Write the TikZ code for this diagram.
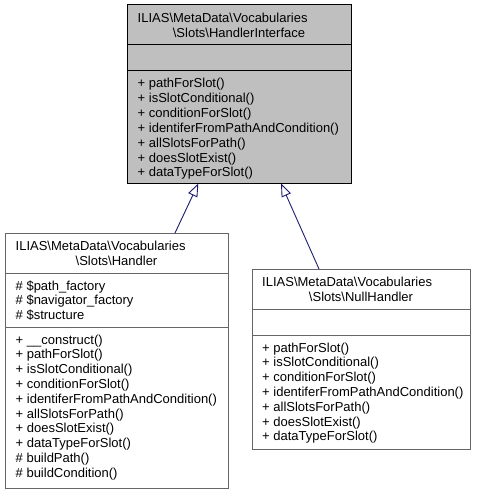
\documentclass[tikz,border=0pt]{standalone}
\usepackage{fontspec}
\setmainfont{Liberation Sans}
\usetikzlibrary{arrows.meta}
\definecolor{edgeblue}{HTML}{191970}
\definecolor{boxgray}{HTML}{BFBFBF}
\definecolor{bordergray}{HTML}{666666}
\newcommand{\bs}{\textbackslash}
\begin{document}
\begin{tikzpicture}[x=1pt,y=-1pt,
  box/.style={draw=bordergray,line width=1pt,fill=white,anchor=north west,inner sep=0pt,outer sep=0pt},
  mainbox/.style={box,draw=black,fill=boxgray},
  txt/.style={anchor=base west,inner sep=0pt,font=\fontsize{13}{14.8}\selectfont},
  ttl/.style={anchor=base,inner sep=0pt,font=\fontsize{13}{14.8}\selectfont},
  sepline/.style={line width=1pt},
  inh/.style={draw=edgeblue,line width=0.9pt,-{Triangle[open,length=13pt,width=10pt,line width=0.9pt]}}
]
\useasboundingbox (0,0) rectangle (480,492);
\fill[white] (0,0) rectangle (480,492);

% ---------- HandlerInterface ----------
\node[mainbox,minimum width=224pt,minimum height=178.5pt] (iface) at (127,5) {};
\draw[sepline,black] ([yshift=-40pt]iface.north west) -- ([yshift=-40pt]iface.north east);
\draw[sepline,black] ([yshift=-66pt]iface.north west) -- ([yshift=-66pt]iface.north east);
\node[txt] (it1) at (137.5,22.5) {ILIAS\bs MetaData\bs Vocabularies};
\node[ttl] (it2) at (239,37.3) {\bs Slots\bs HandlerInterface};
\node[txt] (im1) at (137.5,88) {+ pathForSlot()};
\node[txt] (im2) at (137.5,102.8) {+ isSlotConditional()};
\node[txt] (im3) at (137.5,117.6) {+ conditionForSlot()};
\node[txt] (im4) at (137.5,132.4) {+ identiferFromPathAndCondition()};
\node[txt] (im5) at (137.5,147.2) {+ allSlotsForPath()};
\node[txt] (im6) at (137.5,162) {+ doesSlotExist()};
\node[txt] (im7) at (137.5,176.8) {+ dataTypeForSlot()};

% ---------- Handler ----------
\node[box,minimum width=223pt,minimum height=255pt] (handler) at (5,233) {};
\draw[sepline,bordergray] ([yshift=-40pt]handler.north west) -- ([yshift=-40pt]handler.north east);
\draw[sepline,bordergray] ([yshift=-94pt]handler.north west) -- ([yshift=-94pt]handler.north east);
\node[txt] (ht1) at (15.5,250.5) {ILIAS\bs MetaData\bs Vocabularies};
\node[ttl] (ht2) at (116.5,265.3) {\bs Slots\bs Handler};
\node[txt] (ha1) at (15.5,290) {\# \$path\_factory};
\node[txt] (ha2) at (15.5,304.8) {\# \$navigator\_factory};
\node[txt] (ha3) at (15.5,319.6) {\# \$structure};
\node[txt] (hm1) at (15.5,344) {+ \_\_construct()};
\node[txt] (hm2) at (15.5,358.8) {+ pathForSlot()};
\node[txt] (hm3) at (15.5,373.6) {+ isSlotConditional()};
\node[txt] (hm4) at (15.5,388.4) {+ conditionForSlot()};
\node[txt] (hm5) at (15.5,403.2) {+ identiferFromPathAndCondition()};
\node[txt] (hm6) at (15.5,418) {+ allSlotsForPath()};
\node[txt] (hm7) at (15.5,432.8) {+ doesSlotExist()};
\node[txt] (hm8) at (15.5,447.6) {+ dataTypeForSlot()};
\node[txt] (hm9) at (15.5,462.4) {\# buildPath()};
\node[txt] (hm10) at (15.5,477.2) {\# buildCondition()};

% ---------- NullHandler ----------
\node[box,minimum width=218pt,minimum height=180pt] (null) at (252,269) {};
\draw[sepline,bordergray] ([yshift=-40pt]null.north west) -- ([yshift=-40pt]null.north east);
\draw[sepline,bordergray] ([yshift=-66pt]null.north west) -- ([yshift=-66pt]null.north east);
\node[txt] (nt1) at (262,286.5) {ILIAS\bs MetaData\bs Vocabularies};
\node[ttl] (nt2) at (361,301.3) {\bs Slots\bs NullHandler};
\node[txt] (nm1) at (262,352) {+ pathForSlot()};
\node[txt] (nm2) at (262,366.8) {+ isSlotConditional()};
\node[txt] (nm3) at (262,381.6) {+ conditionForSlot()};
\node[txt] (nm4) at (262,396.4) {+ identiferFromPathAndCondition()};
\node[txt] (nm5) at (262,411.2) {+ allSlotsForPath()};
\node[txt] (nm6) at (262,426) {+ doesSlotExist()};
\node[txt] (nm7) at (262,440.8) {+ dataTypeForSlot()};

% ---------- inheritance ----------
\draw[inh] ([xshift=58.5pt]handler.north) -- ([xshift=-40.7pt]iface.south);
\draw[inh] ([xshift=-42pt]null.north) -- ([xshift=42pt]iface.south);
\end{tikzpicture}
\end{document}
